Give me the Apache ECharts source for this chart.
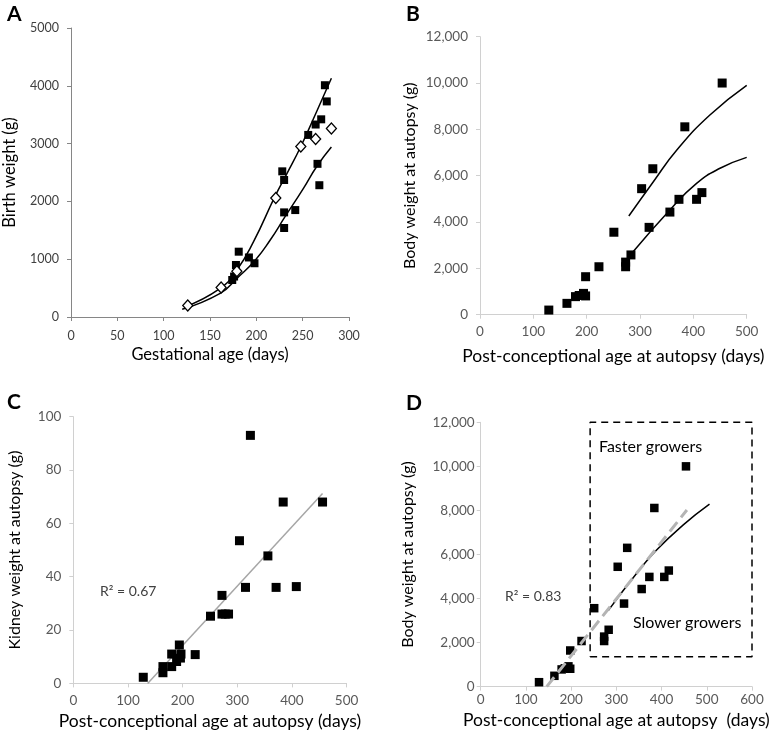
<!DOCTYPE html>
<html>
<head>
<meta charset="utf-8">
<script src="https://cdn.jsdelivr.net/npm/echarts@6/dist/echarts.min.js"></script>
<style>html,body{margin:0;padding:0;background:#fff;}#c{width:777px;height:732px;}</style>
</head>
<body>
<div id="c"></div>
<script>
// ---- Panel A: birth weight vs gestational age ----
const aFilledAge = [274,276,270,264,256,266,268,228,230,230,242,230,181,192,198,178,176,174];
const aFilledWeight = [4010,3730,3420,3330,3150,2650,2280,2520,2370,1810,1850,1540,1130,1030,930,900,700,640];
const aOpenAge = [126,162,179,221,248,264,281];
const aOpenWeight = [200,510,790,2060,2950,3080,3260];
const aUpperAge = [122,161,179,197,220,233,248,265,281];
const aUpperWeight = [170,496,813,1303,2082,2480,2950,3552,4130];
const aLowerAge = [120,161,179,199,215,231,251,265,281];
const aLowerWeight = [135,410,669,986,1332,1735,2230,2600,2940];

// ---- Panel B / D: body weight at autopsy ----
const bAge = [129,163,179,186,194,198,198,223,251,273,273,283,303,317,324,356,373,384,406,416,454];
const bWeight = [200,490,780,830,920,810,1640,2070,3560,2070,2270,2580,5440,3770,6300,4430,4980,8110,4980,5270,10000];
const bUpperAge = [279,325,369,431,500];
const bUpperWeight = [4260,5740,7108,8619,9900];
const bLowerAge = [287,356,406,450,500];
const bLowerWeight = [2720,4520,5670,6320,6790];

// ---- Panel C: kidney weight ----
const cAge = [128,164,164,180,180,189,194,197,196,223,251,272,272,278,284,304,315,324,356,371,384,408,456];
const cKidney = [2.3,4,6.3,6.3,11,8.2,14.4,11,9.5,10.8,25.2,33,26,26,26,53.5,36,93,47.8,36,68,36.3,68];
const cFitAge = [136,456];
const cFitKidney = [0,71.2];

// ---- Panel D fits and box ----
const dCurveAge = [282,345,389,448,506];
const dCurveWeight = [3450,5150,6200,7340,8280];
const dLinAge = [146,456];
const dLinWeight = [0,8020];
const dBoxAge = [242,600,600,242,242];
const dBoxWeight = [1360,1360,12000,12000,1360];

const ticksA = {x:[0,300,50], y:[0,5000,1000]};
const ticksB = {x:[0,500,100], y:[0,12000,2000]};
const ticksC = {x:[0,500,100], y:[0,100,20]};
const ticksD = {x:[0,600,100], y:[0,12000,2000]};

function zip(a,b){return a.map((v,i)=>[v,b[i]]);}
const FONT = 'Lato';
const comma = v => String(v).replace(/\B(?=(\d{3})+(?!\d))/g, ',');
const plain = v => String(v);

function xAx(g, t, name, gap, lineColor, labColor, labSize, margin, nameSize){
  return {type:'value', gridIndex:g, min:t[0], max:t[1], interval:t[2],
    name:name, nameLocation:'middle', nameGap:gap,
    nameTextStyle:{fontFamily:FONT, fontSize:nameSize, color:'#000'},
    axisLine:{show:true, lineStyle:{color:lineColor, width:1}},
    axisTick:{show:true, length:4, lineStyle:{color:lineColor}},
    axisLabel:{fontFamily:FONT, fontSize:labSize, color:labColor, margin:margin, formatter:plain},
    splitLine:{show:false}};
}
function yAx(g, t, name, gap, lineColor, labColor, labSize, margin, fmt, nameSize){
  return {type:'value', gridIndex:g, min:t[0], max:t[1], interval:t[2],
    name:name, nameLocation:'middle', nameGap:gap, nameRotate:90,
    nameTextStyle:{fontFamily:FONT, fontSize:nameSize, color:'#000'},
    axisLine:{show:true, lineStyle:{color:lineColor, width:1}},
    axisTick:{show:true, length:4, lineStyle:{color:lineColor}},
    axisLabel:{fontFamily:FONT, fontSize:labSize, color:labColor, margin:margin, formatter:fmt},
    splitLine:{show:false}};
}
const sq = (g, data, size) => ({type:'scatter', xAxisIndex:g, yAxisIndex:g, data:data, symbol:'rect', symbolSize:size,
  itemStyle:{color:'#000', opacity:1}, z:3, silent:true});
const curve = (g, data, color, width, dash) => ({type:'line', xAxisIndex:g, yAxisIndex:g, data:data, smooth:true,
  showSymbol:false, lineStyle:{color:color, width:width, type:dash||'solid'}, z:2, silent:true, clip:false});

const light = '#d0d0d0';
const option = {
  animation:false,
  grid:[
    {left:70, top:28, width:279, height:289},
    {left:480, top:36.7, width:266.7, height:278},
    {left:73.3, top:416.7, width:273.3, height:266.7},
    {left:480.7, top:422.3, width:271.3, height:264.3}
  ],
  xAxis:[
    xAx(0, ticksA.x, 'Gestational age (days)', 29, '#868686', '#404040', 12.5, 12, 16.5),
    xAx(1, ticksB.x, 'Post-conceptional age at autopsy (days)', 33, light, '#595959', 13.5, 10, 17.5),
    xAx(2, ticksC.x, 'Post-conceptional age at autopsy (days)', 29, light, '#595959', 13.5, 10, 17.5),
    xAx(3, ticksD.x, 'Post-conceptional age at autopsy  (days)', 25, light, '#595959', 13.5, 6, 17.5)
  ],
  yAxis:[
    yAx(0, ticksA.y, 'Birth weight (g)', 53, '#868686', '#404040', 12.5, 12, plain, 16.5),
    yAx(1, ticksB.y, 'Body weight at autopsy (g)', 62, light, '#595959', 13.5, 12, comma, 16),
    yAx(2, ticksC.y, 'Kidney weight at autopsy (g)', 50, light, '#595959', 13.5, 12, plain, 16),
    yAx(3, ticksD.y, 'Body weight at autopsy (g)', 65, light, '#595959', 13.5, 6, comma, 16)
  ],
  series:[
    curve(0, zip(aUpperAge, aUpperWeight), '#000', 1.5),
    curve(0, zip(aLowerAge, aLowerWeight), '#000', 1.5),
    sq(0, zip(aFilledAge, aFilledWeight), 8),
    {type:'scatter', xAxisIndex:0, yAxisIndex:0, data:zip(aOpenAge, aOpenWeight), symbol:'diamond', symbolSize:[10,11],
      itemStyle:{color:'#fff', borderColor:'#000', borderWidth:1.3, opacity:1}, z:4, silent:true},
    curve(1, zip(bUpperAge, bUpperWeight), '#000', 1.5),
    curve(1, zip(bLowerAge, bLowerWeight), '#000', 1.5),
    sq(1, zip(bAge, bWeight), 9),
    {type:'line', xAxisIndex:2, yAxisIndex:2, data:zip(cFitAge, cFitKidney), showSymbol:false,
      lineStyle:{color:'#a6a6a6', width:1.5}, z:2, silent:true},
    sq(2, zip(cAge, cKidney), 9),
    sq(3, zip(bAge, bWeight), 8.5),
    {type:'line', xAxisIndex:3, yAxisIndex:3, data:zip(dLinAge, dLinWeight), showSymbol:false,
      lineStyle:{color:'#b4b4b4', width:3, type:[12,6]}, z:4, silent:true},
    curve(3, zip(dCurveAge, dCurveWeight), '#000', 1.5),
    {type:'line', xAxisIndex:3, yAxisIndex:3, data:zip(dBoxAge, dBoxWeight), showSymbol:false, clip:false,
      lineStyle:{color:'#000', width:1.5, type:[7,5]}, z:1, silent:true}
  ],
  graphic:[
    {type:'text', left:7, top:4, style:{text:'A', font:'bold 21px Lato', fill:'#000'}},
    {type:'text', left:406, top:4, style:{text:'B', font:'bold 21px Lato', fill:'#000'}},
    {type:'text', left:7, top:392, style:{text:'C', font:'bold 21px Lato', fill:'#000'}},
    {type:'text', left:406, top:393, style:{text:'D', font:'bold 21px Lato', fill:'#000'}},
    {type:'text', left:100, top:584, style:{text:'R\u00b2 = 0.67', font:'14px Lato', fill:'#404040'}},
    {type:'text', left:505, top:589, style:{text:'R\u00b2 = 0.83', font:'14px Lato', fill:'#404040'}},
    {type:'text', left:599, top:439, style:{text:'Faster growers', font:'16px Lato', fill:'#000'}},
    {type:'text', left:633, top:615, style:{text:'Slower growers', font:'16px Lato', fill:'#000'}}
  ]
};
const chart = echarts.init(document.getElementById('c'), null, {renderer:'canvas'});
chart.setOption(option);
</script>
</body>
</html>
